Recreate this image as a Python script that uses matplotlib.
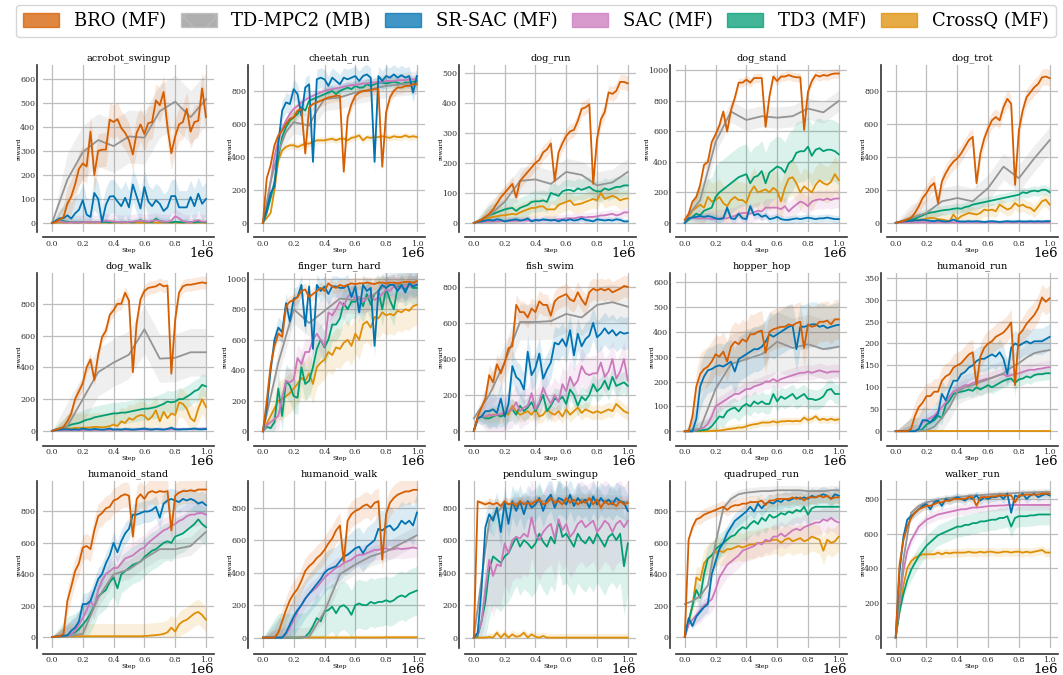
import numpy as np
import matplotlib
matplotlib.use("Agg")
import matplotlib.pyplot as plt
from matplotlib.patches import Patch

# ---------------------------------------------------------------- data
# every series is sampled evenly over 0..1e6 env steps (its own length)
METHODS = ["BRO (MF)", "TD-MPC2 (MB)", "SR-SAC (MF)", "SAC (MF)", "TD3 (MF)", "CrossQ (MF)"]
COLORS = ["#d55e00", "#949494", "#0173b2", "#cc78bc", "#029e73", "#de8f05"]

TASKS = [
    "acrobot_swingup", "cheetah_run", "dog_run", "dog_stand", "dog_trot",
    "dog_walk", "finger_turn_hard", "fish_swim", "hopper_hop", "humanoid_run",
    "humanoid_stand", "humanoid_walk", "pendulum_swingup", "quadruped_run", "walker_run",
]

acrobot_swingup = {
    "BRO (MF)": [0, 5, 15, 25, 80, 110, 160, 225, 248, 235, 380, 200, 300, 305, 305, 430, 420, 432, 395, 375, 345,
                 285, 375, 410, 370, 415, 420, 510, 490, 545, 400, 290, 360, 410, 420, 475, 380, 420, 425, 560, 440],
    "TD-MPC2 (MB)": [0, 180, 295, 345, 320, 360, 355, 465, 505, 440, 515],
    "SR-SAC (MF)": [0, 10, 20, 20, 32, 18, 40, 55, 95, 35, 25, 125, 100, 5, 75, 110, 112, 90, 70, 105, 65,
                    160, 110, 60, 150, 90, 70, 95, 80, 50, 65, 112, 112, 65, 65, 65, 108, 70, 122, 80, 100],
    "SAC (MF)": [0, 5, 8, 3, 2, 3, 2, 2, 3, 4, 5, 3, 4, 6, 10, 8, 6, 5, 4, 3, 5,
                 6, 8, 10, 8, 6, 9, 12, 8, 6, 5, 10, 28, 20, 8, 5, 3, 8, 12, 5, 6],
    "TD3 (MF)": [0, 5, 15, 8, 5, 4, 3, 3, 5, 4, 5, 3, 4, 5, 4, 3, 5, 4, 3, 5, 4,
                 3, 8, 12, 6, 5, 4, 18, 8, 5, 4, 3, 5, 4, 3, 5, 4, 3, 5, 4, 3],
    "CrossQ (MF)": [0, 2, 3, 2, 2, 3, 2, 2, 3, 2, 2, 3, 2, 2, 3, 2, 2, 3, 2, 2, 3,
                    2, 2, 3, 2, 2, 3, 2, 2, 3, 2, 2, 3, 2, 2, 3, 2, 2, 3, 2, 2],
}
acrobot_swingup_spread = [70, 110, 70, 30, 15, 5]

cheetah_run = {
    "BRO (MF)": [0, 270, 350, 470, 530, 560, 600, 630, 640, 680, 690, 420, 700, 720, 730, 740, 750, 760, 765, 770, 770,
                 310, 640, 720, 770, 790, 800, 800, 805, 810, 810, 340, 670, 760, 800, 820, 820, 830, 830, 840, 840],
    "TD-MPC2 (MB)": [0, 250, 430, 550, 610, 600, 590, 680, 750, 755, 760, 775, 790, 800, 810, 820, 830, 835, 840, 845, 850],
    "SR-SAC (MF)": [0, 80, 180, 220, 480, 680, 730, 720, 810, 780, 650, 820, 840, 370, 870, 880, 870, 830, 880, 860, 840,
                    880, 870, 880, 890, 860, 890, 900, 880, 370, 890, 860, 890, 880, 900, 880, 895, 880, 890, 790, 890],
    "SAC (MF)": [0, 100, 250, 400, 500, 570, 620, 660, 690, 710, 730, 745, 760, 770, 780, 790, 800, 805, 810, 815, 820,
                 825, 830, 835, 835, 840, 845, 845, 850, 850, 855, 855, 860, 860, 860, 865, 865, 865, 870, 870, 870],
    "TD3 (MF)": [0, 60, 150, 250, 400, 520, 580, 620, 640, 660, 700, 680, 740, 750, 760, 770, 780, 790, 800, 780, 800,
                 810, 820, 810, 830, 820, 820, 840, 830, 840, 850, 850, 845, 850, 855, 850, 840, 850, 850, 855, 860],
    "CrossQ (MF)": [0, 30, 60, 200, 380, 440, 460, 470, 470, 460, 470, 480, 480, 490, 500, 500, 500, 505, 510, 500, 510,
                    510, 500, 515, 520, 530, 500, 520, 515, 520, 520, 525, 520, 515, 525, 520, 520, 530, 520, 525, 520],
}
cheetah_run_spread = [35, 70, 60, 25, 35, 20]

dog_run = {
    "BRO (MF)": [0, 5, 10, 20, 30, 45, 65, 85, 100, 115, 130, 85, 140, 155, 170, 185, 200, 210, 235, 245, 265,
                 140, 235, 265, 290, 305, 310, 340, 380, 385, 395, 130, 280, 345, 370, 435, 430, 440, 470, 470, 465],
    "TD-MPC2 (MB)": [0, 25, 70, 140, 145, 130, 170, 160, 125, 135, 170],
    "SR-SAC (MF)": [0, 3, 5, 8, 10, 8, 12, 10, 5, 8, 10, 12, 8, 10, 15, 5, 10, 8, 12, 10, 8,
                    10, 5, 10, 8, 12, 8, 10, 15, 10, 8, 5, 12, 10, 8, 10, 8, 12, 10, 5, 5],
    "SAC (MF)": [0, 2, 3, 5, 5, 5, 5, 6, 6, 6, 7, 7, 7, 8, 8, 8, 8, 9, 10, 10, 10,
                 10, 12, 12, 15, 15, 15, 18, 20, 18, 20, 20, 22, 25, 25, 28, 30, 25, 28, 35, 35],
    "TD3 (MF)": [0, 5, 10, 20, 25, 30, 35, 40, 45, 48, 50, 40, 50, 55, 60, 70, 72, 72, 75, 70, 100,
                 95, 90, 105, 110, 110, 105, 115, 110, 115, 120, 110, 105, 105, 115, 110, 115, 120, 120, 125, 125],
    "CrossQ (MF)": [0, 5, 10, 15, 18, 20, 22, 25, 25, 28, 30, 28, 35, 40, 45, 50, 50, 55, 55, 45, 45,
                    45, 60, 65, 70, 75, 60, 62, 65, 70, 75, 80, 75, 100, 80, 85, 90, 85, 75, 80, 82],
}
dog_run_spread = [25, 45, 10, 15, 35, 30]

dog_stand = {
    "BRO (MF)": [20, 60, 140, 170, 250, 380, 400, 530, 580, 640, 730, 600, 740, 820, 920, 920, 940, 920, 950, 950, 950,
                 630, 830, 960, 930, 960, 960, 970, 960, 955, 955, 610, 860, 930, 970, 960, 970, 965, 975, 980, 980],
    "TD-MPC2 (MB)": [20, 150, 530, 730, 675, 700, 690, 700, 750, 725, 800],
    "SR-SAC (MF)": [0, 30, 35, 40, 45, 40, 45, 40, 30, 25, 30, 100, 30, 25, 60, 30, 25, 110, 50, 60, 40,
                    50, 25, 30, 40, 25, 20, 20, 25, 30, 25, 30, 35, 30, 25, 30, 30, 35, 30, 25, 25],
    "SAC (MF)": [0, 30, 35, 30, 30, 30, 30, 25, 25, 30, 30, 30, 40, 45, 60, 65, 65, 60, 70, 80, 75,
                 100, 100, 100, 100, 90, 110, 75, 100, 120, 140, 130, 110, 140, 150, 155, 150, 160, 150, 160, 160],
    "TD3 (MF)": [0, 20, 40, 60, 50, 80, 90, 100, 170, 200, 220, 240, 260, 280, 300, 310, 320, 260, 300, 310, 340,
                 260, 330, 350, 370, 360, 330, 390, 410, 460, 470, 470, 500, 440, 480, 490, 470, 480, 480, 470, 450],
    "CrossQ (MF)": [0, 40, 80, 100, 120, 100, 170, 140, 150, 170, 130, 110, 150, 170, 150, 150, 130, 200, 240, 200, 210,
                    220, 200, 230, 210, 140, 230, 290, 300, 260, 200, 240, 220, 200, 250, 280, 260, 250, 270, 320, 280],
}
dog_stand_spread = [30, 70, 25, 60, 200, 120]

dog_trot = {
    "BRO (MF)": [0, 5, 10, 20, 30, 60, 100, 150, 180, 220, 240, 120, 250, 300, 340, 370, 390, 420, 460, 500, 520,
                 240, 420, 510, 570, 620, 640, 620, 700, 750, 720, 230, 560, 680, 760, 790, 820, 840, 880, 885, 875],
    "TD-MPC2 (MB)": [0, 30, 60, 130, 150, 130, 210, 340, 270, 390, 500],
    "SR-SAC (MF)": [0, 5, 8, 10, 12, 15, 15, 18, 15, 12, 10, 15, 10, 8, 10, 20, 10, 8, 8, 10, 8,
                    10, 8, 5, 8, 10, 8, 5, 8, 10, 8, 8, 10, 8, 8, 10, 8, 10, 8, 10, 10],
    "SAC (MF)": [0, 2, 2, 3, 3, 3, 3, 4, 3, 3, 3, 4, 3, 3, 4, 3, 3, 4, 3, 3, 4,
                 3, 3, 4, 3, 3, 4, 3, 3, 4, 3, 3, 4, 3, 3, 4, 3, 3, 4, 3, 3],
    "TD3 (MF)": [0, 5, 10, 15, 20, 25, 35, 45, 55, 62, 65, 70, 75, 78, 80, 85, 88, 85, 95, 100, 110,
                 115, 120, 125, 130, 135, 140, 145, 150, 155, 160, 165, 170, 185, 180, 190, 195, 190, 200, 200, 185],
    "CrossQ (MF)": [0, 5, 8, 10, 12, 15, 18, 20, 25, 30, 28, 22, 20, 15, 10, 50, 20, 40, 50, 60, 55,
                    50, 60, 80, 75, 80, 70, 110, 95, 80, 90, 120, 100, 110, 95, 90, 70, 100, 130, 140, 110],
}
dog_trot_spread = [50, 80, 12, 5, 30, 40]

dog_walk = {
    "BRO (MF)": [0, 8, 15, 25, 60, 110, 200, 250, 300, 400, 450, 320, 480, 590, 630, 730, 760, 800, 800, 870, 820,
                 370, 680, 830, 880, 900, 905, 910, 925, 910, 915, 360, 700, 870, 910, 920, 920, 925, 930, 935, 930],
    "TD-MPC2 (MB)": [0, 30, 200, 370, 430, 480, 640, 455, 460, 495, 495],
    "SR-SAC (MF)": [0, 5, 8, 10, 10, 8, 10, 8, 15, 10, 8, 12, 10, 8, 10, 15, 8, 10, 8, 12, 10,
                    8, 10, 12, 15, 10, 8, 12, 10, 8, 12, 20, 10, 8, 10, 10, 12, 15, 10, 10, 12],
    "SAC (MF)": [0, 3, 4, 5, 5, 5, 5, 5, 5, 6, 6, 6, 6, 6, 7, 7, 7, 8, 8, 8, 8,
                 8, 8, 9, 9, 9, 10, 10, 10, 10, 10, 10, 10, 12, 12, 12, 12, 12, 14, 14, 15],
    "TD3 (MF)": [0, 10, 15, 20, 30, 40, 45, 50, 60, 70, 75, 85, 90, 95, 100, 105, 110, 110, 115, 115, 120,
                 125, 130, 135, 140, 140, 145, 150, 160, 170, 185, 180, 185, 200, 200, 215, 230, 250, 260, 290, 280],
    "CrossQ (MF)": [0, 5, 8, 10, 15, 15, 18, 20, 20, 20, 22, 25, 25, 22, 25, 30, 40, 30, 60, 50, 80,
                    70, 90, 100, 95, 70, 90, 130, 60, 120, 80, 110, 100, 180, 170, 140, 80, 60, 140, 200, 150],
}
dog_walk_spread = [40, 150, 15, 8, 70, 90]

finger_turn_hard = {
    "BRO (MF)": [0, 200, 430, 560, 640, 620, 820, 850, 860, 880, 920, 930, 880, 900, 920, 940, 920, 970, 950, 940, 960,
                 950, 960, 970, 965, 970, 970, 975, 970, 965, 975, 975, 970, 975, 975, 970, 975, 980, 980, 975, 985],
    "TD-MPC2 (MB)": [0, 450, 800, 710, 790, 870, 860, 880, 960, 960, 970],
    "SR-SAC (MF)": [0, 150, 400, 600, 680, 650, 840, 720, 870, 880, 960, 690, 950, 540, 960, 920, 950, 900, 950, 950, 940,
                    940, 960, 880, 950, 780, 960, 920, 940, 560, 920, 960, 940, 960, 960, 920, 960, 910, 970, 950, 960],
    "SAC (MF)": [0, 40, 60, 80, 100, 220, 330, 320, 340, 480, 440, 520, 520, 600, 640, 600, 560, 780, 760, 800, 850,
                 820, 880, 910, 860, 880, 850, 870, 900, 860, 880, 900, 930, 920, 950, 940, 940, 950, 950, 960, 960],
    "TD3 (MF)": [0, 30, 20, 60, 280, 100, 330, 300, 230, 220, 420, 310, 330, 420, 540, 600, 550, 600, 700, 700, 740,
                 840, 800, 850, 850, 880, 820, 900, 830, 900, 920, 800, 940, 860, 800, 950, 960, 930, 960, 940, 940],
    "CrossQ (MF)": [0, 50, 100, 150, 200, 210, 230, 250, 280, 310, 350, 330, 380, 310, 420, 450, 470, 520, 500, 550, 540,
                    580, 600, 560, 640, 600, 700, 720, 680, 750, 740, 780, 760, 770, 760, 790, 780, 800, 790, 820, 830],
}
finger_turn_hard_spread = [40, 90, 70, 90, 110, 130]

fish_swim = {
    "BRO (MF)": [0, 80, 130, 180, 310, 270, 370, 320, 380, 460, 470, 700, 660, 660, 630, 680, 660, 720, 700, 700, 640,
                 720, 740, 750, 760, 730, 720, 770, 730, 700, 770, 790, 780, 790, 780, 790, 770, 780, 790, 805, 800],
    "TD-MPC2 (MB)": [70, 200, 380, 605, 605, 610, 650, 630, 700, 715, 690],
    "SR-SAC (MF)": [0, 70, 80, 110, 110, 120, 100, 180, 80, 150, 360, 300, 280, 230, 440, 310, 350, 430, 290, 340, 380,
                    490, 480, 510, 470, 560, 420, 540, 470, 510, 530, 600, 520, 540, 570, 540, 560, 530, 550, 540, 545],
    "SAC (MF)": [0, 70, 80, 80, 90, 85, 90, 95, 100, 110, 120, 160, 110, 130, 140, 210, 120, 160, 240, 190, 150,
                 200, 160, 260, 220, 300, 250, 280, 360, 320, 310, 320, 320, 380, 300, 330, 400, 290, 330, 400, 280],
    "TD3 (MF)": [0, 70, 80, 70, 70, 80, 90, 80, 90, 110, 120, 90, 140, 110, 130, 160, 110, 150, 200, 110, 140,
                 180, 170, 190, 150, 230, 200, 140, 190, 170, 200, 260, 220, 240, 280, 230, 300, 250, 260, 270, 250],
    "CrossQ (MF)": [0, 70, 80, 80, 85, 90, 90, 80, 100, 90, 140, 110, 90, 100, 110, 90, 120, 80, 90, 120, 100,
                    90, 110, 80, 120, 90, 110, 130, 100, 120, 110, 100, 110, 100, 110, 120, 110, 150, 130, 110, 100],
}
fish_swim_spread = [60, 100, 90, 100, 60, 40]

hopper_hop = {
    "BRO (MF)": [0, 0, 60, 180, 230, 250, 260, 280, 310, 300, 320, 280, 340, 360, 350, 370, 360, 390, 390, 400, 405,
                 315, 400, 410, 415, 420, 420, 430, 425, 435, 440, 335, 430, 420, 425, 440, 440, 445, 430, 450, 450],
    "TD-MPC2 (MB)": [0, 10, 170, 270, 290, 310, 360, 335, 350, 330, 340],
    "SR-SAC (MF)": [0, 0, 0, 50, 180, 220, 245, 250, 260, 265, 260, 270, 280, 240, 290, 300, 310, 320, 330, 330, 340,
                    360, 390, 380, 390, 400, 410, 420, 425, 330, 420, 420, 425, 430, 430, 420, 425, 415, 420, 425, 428],
    "SAC (MF)": [0, 0, 0, 5, 10, 15, 30, 60, 100, 110, 120, 130, 140, 150, 150, 160, 170, 170, 180, 185, 190,
                 200, 200, 210, 200, 210, 215, 220, 225, 230, 235, 235, 240, 235, 240, 245, 240, 235, 240, 240, 240],
    "TD3 (MF)": [0, 0, 0, 2, 3, 5, 8, 20, 40, 60, 55, 80, 90, 95, 80, 100, 110, 100, 120, 110, 120,
                 110, 110, 150, 120, 140, 130, 140, 150, 130, 140, 150, 130, 130, 125, 130, 140, 165, 170, 150, 150],
    "CrossQ (MF)": [0, 0, 0, 0, 0, 0, 0, 1, 2, 3, 5, 8, 10, 12, 15, 15, 20, 25, 28, 30, 35,
                    35, 35, 40, 35, 40, 40, 42, 40, 42, 40, 55, 45, 50, 60, 45, 50, 45, 50, 45, 48],
}
hopper_hop_spread = [80, 120, 90, 30, 40, 15]

humanoid_run = {
    "BRO (MF)": [0, 0, 0, 0, 5, 35, 55, 65, 80, 80, 90, 90, 115, 125, 130, 145, 150, 155, 165, 175, 180,
                 105, 170, 190, 200, 205, 215, 220, 225, 235, 248, 105, 220, 230, 245, 255, 265, 280, 305, 295, 303],
    "TD-MPC2 (MB)": [0, 0, 0, 0, 2, 10, 30, 55, 90, 100, 105, 112, 118, 125, 132, 145, 155, 168, 178, 182, 185],
    "SR-SAC (MF)": [0, 0, 0, 0, 0, 0, 5, 25, 25, 20, 30, 40, 85, 70, 95, 115, 115, 130, 135, 145, 150,
                    160, 165, 165, 170, 175, 170, 180, 165, 130, 190, 200, 195, 200, 205, 200, 205, 205, 205, 210, 215],
    "SAC (MF)": [0, 0, 0, 0, 0, 0, 5, 20, 25, 30, 35, 45, 55, 65, 80, 90, 95, 100, 105, 105, 110,
                 112, 115, 118, 120, 122, 125, 128, 130, 125, 128, 130, 132, 135, 138, 140, 140, 142, 143, 145, 146],
    "TD3 (MF)": [0, 0, 0, 0, 0, 0, 0, 5, 15, 20, 25, 35, 30, 60, 70, 85, 88, 90, 92, 95, 92,
                 100, 95, 100, 105, 100, 105, 110, 115, 118, 120, 110, 118, 120, 125, 122, 128, 130, 130, 132, 132],
    "CrossQ (MF)": [0] * 41,
}
humanoid_run_spread = [30, 30, 30, 15, 15, 0]

humanoid_stand = {
    "BRO (MF)": [0, 2, 5, 20, 230, 320, 420, 470, 570, 580, 560, 680, 770, 790, 820, 830, 870, 880, 900, 910, 900,
                 640, 880, 910, 880, 920, 930, 920, 930, 925, 930, 680, 900, 920, 930, 930, 935, 930, 940, 940, 940],
    "TD-MPC2 (MB)": [0, 5, 20, 250, 400, 430, 500, 560, 560, 580, 670],
    "SR-SAC (MF)": [0, 3, 5, 8, 10, 40, 60, 100, 210, 210, 230, 300, 370, 400, 470, 520, 600, 540, 610, 660, 690,
                    780, 780, 790, 800, 800, 810, 830, 760, 850, 870, 880, 870, 860, 880, 870, 880, 870, 850, 860, 840],
    "SAC (MF)": [0, 3, 5, 8, 10, 20, 40, 80, 120, 170, 230, 190, 300, 360, 400, 420, 440, 440, 470, 500, 510,
                 520, 540, 560, 570, 600, 620, 640, 660, 680, 690, 710, 720, 740, 750, 770, 780, 780, 790, 790, 780],
    "TD3 (MF)": [0, 3, 5, 8, 10, 20, 30, 50, 80, 110, 150, 200, 260, 280, 300, 350, 380, 310, 400, 420, 440,
                 460, 470, 480, 510, 530, 550, 560, 580, 600, 610, 600, 640, 650, 660, 680, 700, 720, 750, 720, 700],
    "CrossQ (MF)": [0, 2, 3, 3, 4, 5, 5, 5, 5, 5, 5, 5, 5, 5, 5, 5, 5, 5, 5, 5, 5,
                    5, 5, 5, 6, 8, 10, 12, 15, 20, 30, 60, 35, 80, 100, 110, 130, 150, 160, 140, 110],
}
humanoid_stand_spread = [80, 60, 70, 80, 120, 80]

humanoid_walk = {
    "BRO (MF)": [0, 0, 0, 0, 30, 100, 170, 230, 270, 300, 350, 410, 440, 460, 490, 510, 540, 580, 610, 660, 690,
                 470, 720, 760, 780, 790, 810, 820, 800, 830, 840, 480, 760, 830, 860, 880, 890, 900, 900, 910, 910],
    "TD-MPC2 (MB)": [0, 0, 0, 5, 160, 390, 450, 500, 530, 580, 630],
    "SR-SAC (MF)": [0, 0, 0, 0, 0, 0, 30, 80, 130, 170, 200, 240, 270, 300, 330, 360, 400, 420, 430, 440, 470,
                    500, 510, 530, 550, 560, 520, 560, 580, 600, 670, 660, 680, 690, 660, 680, 720, 700, 720, 690, 770],
    "SAC (MF)": [0, 0, 0, 0, 0, 0, 20, 60, 110, 160, 200, 240, 270, 290, 310, 340, 370, 390, 410, 430, 440,
                 460, 470, 480, 500, 510, 510, 520, 530, 540, 540, 545, 550, 540, 545, 550, 545, 548, 550, 555, 550],
    "TD3 (MF)": [0, 0, 0, 0, 0, 0, 0, 0, 0, 0, 0, 5, 30, 70, 120, 100, 160, 170, 190, 150, 190,
                 200, 180, 140, 200, 210, 200, 200, 220, 210, 220, 220, 230, 220, 230, 250, 260, 250, 270, 280, 290],
    "CrossQ (MF)": [0, 0, 0, 0, 0, 0, 0, 0, 0, 0, 0, 1, 1, 1, 1, 1, 1, 1, 1, 1, 1,
                    1, 1, 1, 1, 1, 1, 1, 1, 1, 1, 1, 2, 2, 2, 2, 2, 2, 2, 2, 2],
}
humanoid_walk_spread = [80, 60, 120, 60, 150, 15]

pendulum_swingup = {
    "BRO (MF)": [0, 840, 830, 820, 830, 820, 830, 810, 840, 820, 830, 810, 840, 820, 830, 820, 840, 850, 820, 830, 860,
                 830, 840, 820, 860, 830, 850, 820, 840, 830, 860, 820, 850, 800, 840, 820, 830, 810, 840, 820, 830],
    "TD-MPC2 (MB)": [0, 720, 820, 830, 835, 845, 840, 850, 845, 840, 835],
    "SR-SAC (MF)": [0, 30, 300, 680, 760, 720, 800, 650, 830, 700, 840, 780, 840, 760, 840, 800, 820, 860, 780, 850, 880,
                    800, 860, 850, 820, 880, 810, 860, 830, 850, 800, 870, 820, 860, 830, 850, 820, 860, 840, 830, 780],
    "SAC (MF)": [0, 20, 100, 300, 480, 380, 450, 440, 580, 520, 600, 620, 610, 640, 620, 740, 640, 600, 650, 680, 700,
                 610, 730, 660, 700, 620, 650, 700, 720, 680, 700, 720, 650, 680, 720, 700, 650, 700, 720, 680, 720],
    "TD3 (MF)": [0, 10, 100, 220, 420, 500, 480, 460, 500, 520, 570, 620, 560, 600, 580, 550, 580, 640, 590, 560, 620,
                 580, 720, 620, 640, 600, 560, 640, 600, 580, 620, 580, 640, 600, 560, 620, 640, 600, 640, 440, 580],
    "CrossQ (MF)": [0, 0, 0, 0, 5, 0, 30, 0, 25, 0, 20, 5, 10, 30, 0, 20, 5, 0, 10, 0, 0,
                    0, 0, 0, 0, 0, 0, 0, 0, 0, 0, 0, 0, 0, 0, 0, 0, 0, 0, 0, 0],
}
pendulum_swingup_spread = [30, 40, 100, 250, 300, 25]

quadruped_run = {
    "BRO (MF)": [0, 620, 700, 750, 760, 780, 790, 800, 810, 820, 830, 810, 830, 840, 840, 850, 850, 860, 860, 860, 870,
                 840, 870, 870, 880, 880, 880, 880, 890, 880, 890, 870, 890, 890, 890, 900, 890, 900, 880, 890, 890],
    "TD-MPC2 (MB)": [210, 230, 260, 330, 600, 820, 880, 910, 920, 925, 930, 930, 935, 935, 935, 935, 930, 930, 930, 935, 935],
    "SR-SAC (MF)": [0, 120, 70, 130, 160, 190, 210, 400, 480, 560, 600, 660, 700, 740, 760, 780, 800, 830, 800, 850, 820,
                    850, 860, 850, 870, 860, 880, 870, 880, 890, 880, 890, 880, 900, 890, 900, 910, 900, 880, 910, 900],
    "SAC (MF)": [0, 80, 110, 140, 170, 200, 220, 240, 300, 380, 420, 460, 480, 500, 520, 550, 560, 570, 580, 600, 590,
                 620, 610, 640, 640, 660, 640, 660, 680, 690, 680, 700, 710, 720, 730, 730, 750, 740, 760, 740, 730],
    "TD3 (MF)": [0, 100, 200, 300, 250, 400, 500, 520, 560, 580, 600, 620, 640, 650, 680, 700, 690, 720, 740, 720, 760,
                 740, 780, 760, 770, 790, 780, 800, 790, 810, 800, 830, 780, 820, 830, 830, 830, 830, 830, 830, 830],
    "CrossQ (MF)": [0, 100, 200, 380, 360, 470, 500, 520, 540, 550, 540, 560, 560, 570, 580, 570, 580, 590, 590, 600, 600,
                    610, 610, 620, 620, 600, 620, 630, 610, 620, 630, 610, 620, 640, 630, 620, 550, 620, 600, 610, 640],
}
quadruped_run_spread = [40, 30, 50, 80, 80, 90]

walker_run = {
    "BRO (MF)": [0, 420, 560, 640, 690, 720, 740, 750, 760, 760, 770, 780, 780, 790, 790, 800, 800, 800, 800, 810, 810,
                 760, 810, 810, 810, 815, 815, 820, 820, 820, 820, 780, 820, 820, 825, 825, 825, 825, 830, 830, 830],
    "TD-MPC2 (MB)": [0, 450, 720, 760, 780, 790, 800, 805, 810, 815, 820, 822, 825, 828, 830, 832, 835, 837, 838, 840, 840],
    "SR-SAC (MF)": [0, 380, 580, 680, 700, 720, 740, 760, 770, 740, 780, 790, 760, 800, 790, 800, 810, 800, 790, 810, 800,
                    820, 790, 810, 800, 810, 810, 820, 800, 830, 720, 820, 810, 830, 800, 820, 830, 810, 820, 830, 820],
    "SAC (MF)": [0, 200, 380, 500, 560, 600, 640, 660, 680, 690, 700, 710, 715, 720, 725, 730, 735, 740, 740, 745, 750,
                 750, 752, 755, 758, 760, 760, 762, 762, 765, 765, 765, 765, 765, 765, 765, 765, 765, 765, 765, 765],
    "TD3 (MF)": [0, 150, 250, 330, 390, 430, 470, 500, 530, 550, 570, 590, 600, 610, 620, 630, 640, 640, 650, 650, 660,
                 660, 670, 670, 675, 680, 680, 690, 690, 700, 640, 690, 700, 700, 700, 705, 705, 710, 710, 710, 710],
    "CrossQ (MF)": [0, 150, 300, 400, 440, 460, 470, 480, 480, 480, 480, 490, 480, 490, 485, 490, 490, 490, 490, 495, 490,
                    490, 495, 490, 495, 495, 490, 490, 495, 495, 490, 495, 495, 490, 495, 490, 495, 500, 505, 490, 490],
}
walker_run_spread = [20, 20, 25, 30, 60, 25]

# ---------------------------------------------------------------- layout
YLIMS = {
    "acrobot_swingup": (-37, 658, 100, 600), "cheetah_run": (-55, 958, 200, 800),
    "dog_run": (-30, 527, 100, 500), "dog_stand": (-59, 1037, 200, 1000),
    "dog_trot": (-55, 956, 200, 800), "dog_walk": (-57, 995, 200, 800),
    "finger_turn_hard": (-57, 1039, 200, 1000), "fish_swim": (-50, 878, 200, 800),
    "hopper_hop": (-35, 637, 100, 600), "humanoid_run": (-20, 361, 50, 350),
    "humanoid_stand": (-70, 995, 200, 800), "humanoid_walk": (-64, 965, 200, 800),
    "pendulum_swingup": (-64, 965, 200, 800), "quadruped_run": (-70, 995, 200, 800),
    "walker_run": (-61, 904, 200, 800),
}
DRAW_ORDER = [5, 4, 3, 1, 2, 0]

plt.rcParams.update({
    "font.family": "serif",
    "font.serif": ["DejaVu Serif"],
    "axes.linewidth": 1.2,
})

fig, axes = plt.subplots(3, 5, figsize=(10.63, 6.75), dpi=100)
fig.subplots_adjust(left=0.0405, right=0.995, top=0.904, bottom=0.040, wspace=0.234, hspace=0.245)

data_by_task = globals()
for ax, task in zip(axes.flat, TASKS):
    series = data_by_task[task]
    spread = data_by_task[task + "_spread"]
    for k in DRAW_ORDER:
        name, color = METHODS[k], COLORS[k]
        v = np.asarray(series[name], dtype=float)
        x = np.linspace(0, 1e6, len(v))
        half = spread[k] * np.clip(x / 1e5, 0, 1)
        ax.fill_between(x, np.maximum(v - half, 0), v + half, color=color, alpha=0.14, lw=0)
        ax.plot(x, v, color=color, lw=1.3)

    lo, hi, step, top = YLIMS[task]
    ax.set_ylim(lo, hi)
    ax.set_yticks(np.arange(0, top + 1, step))
    ax.set_xlim(-0.058e6, 1.052e6)
    ax.set_xticks(np.linspace(0, 1e6, 6))
    ax.grid(True, color="#bdbdbd", lw=0.9)
    ax.set_axisbelow(True)
    for s in ("top", "right"):
        ax.spines[s].set_visible(False)
    for s in ("left", "bottom"):
        ax.spines[s].set_position(("outward", 4))
        ax.spines[s].set_color("#333333")
    ax.tick_params(length=0, labelsize=5.8, pad=1.5, colors="#333333")
    ax.xaxis.get_offset_text().set_visible(False)
    ax.text(1.0, -0.088, "1e6", transform=ax.transAxes, ha="right", va="top", fontsize=9.5)
    ax.set_title(task, fontsize=7, pad=3)
    ax.set_xlabel("Step", fontsize=4.5, labelpad=0.5)
    ax.set_ylabel("reward", fontsize=4.5, labelpad=-1)

handles = [Patch(facecolor=c, edgecolor=c, alpha=0.75) for c in COLORS]
handles[1] = Patch(facecolor=COLORS[1], edgecolor="#bbbbbb", alpha=0.75, hatch="\\/")
fig.legend(handles, METHODS, loc="lower left", bbox_to_anchor=(0.015, 0.945, 0.978, 0.05),
           mode="expand", ncol=6, fontsize=13, frameon=True, edgecolor="#cccccc",
           handlelength=2.0, handleheight=0.8, handletextpad=0.8, borderaxespad=0.0)

fig.savefig("out.png")
